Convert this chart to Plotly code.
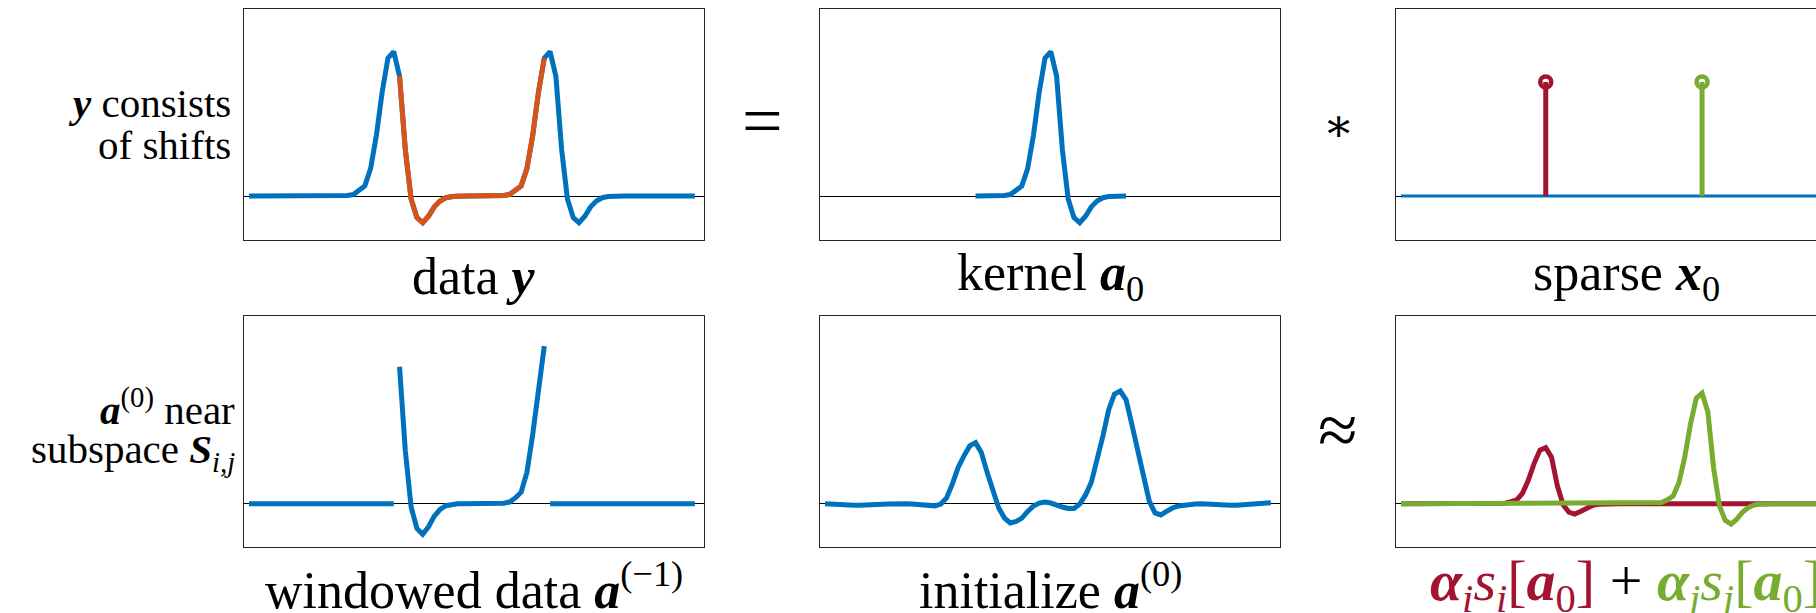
import numpy as np
import plotly.graph_objects as go

W, H = 1816, 613

# ---------------- data ----------------
n_samples = 78
kernel_a0 = [0.0, 0.0, 0.0, 0.0, 0.0, 0.003, 0.01, 0.035, 0.07, 0.19, 0.42, 0.72, 0.955, 1.0,
             0.83, 0.32, -0.02, -0.15, -0.185, -0.14, -0.075, -0.035, -0.012, -0.004, 0.0, 0.0, 0.0]
kernel_offset_in_panel = 26          # where the kernel is drawn in the "kernel a0" panel
shift_starts = [12, 39]              # kernel start positions inside y
spike_positions = [25, 52]           # sparse x0 support
spike_heights = [0.79, 0.79]
orange_window = [26, 51]             # highlighted window (inclusive)
alpha_scales = [0.34, 0.67]          # alpha_i, alpha_j
init_a0 = [0.0, -0.003, -0.006, -0.008, -0.009, -0.01,
           -0.01, -0.01, -0.008, -0.006, -0.004, -0.002, 0.0,
           0.0, 0.0, -0.002, -0.005, -0.008, -0.01, -0.013,
           -0.002, 0.035, 0.12, 0.22, 0.29, 0.35, 0.37, 0.31, 0.19, 0.07,
           -0.026, -0.087, -0.117, -0.108, -0.087, -0.047, -0.014, 0.004, 0.01, 0.004,
           -0.011, -0.02, -0.029, -0.029, -0.002, 0.053, 0.13, 0.265, 0.41, 0.57,
           0.665, 0.683, 0.63, 0.48, 0.33, 0.15, 0.016, -0.056, -0.068, -0.047,
           -0.026, -0.014, -0.008, -0.005, -0.002,
           0.0, -0.003, -0.006, -0.008, -0.009, -0.01,
           -0.009, -0.007, -0.005, -0.003, 0.0, 0.003, 0.006]

BLUE = "#0072BD"
ORANGE = "#D95319"
RED = "#A2142F"
GREEN = "#77AC30"
FRAME = "#262626"

idx = np.arange(n_samples)
kern = np.array(kernel_a0)
K = len(kern)


def place(start, values, scale=1.0):
    out = np.zeros(n_samples)
    out[start:start + len(values)] += scale * np.asarray(values)
    return out


y_data = place(shift_starts[0], kern) + place(shift_starts[1], kern)
kernel_panel = np.full(n_samples, np.nan)
kernel_panel[kernel_offset_in_panel:kernel_offset_in_panel + K] = kern

# ---------------- layout geometry ----------------
px_per_sample = 5.79
first_sample_px = 5.0
panel_w = 460
r0 = -first_sample_px / px_per_sample
r_full = [r0, r0 + panel_w / px_per_sample]
r_clip = [r0, r0 + (W - 1396) / px_per_sample]

top_row = (9, 240, 196, 144.4)
bot_row = (316, 547, 503.7, 165.0)


def yr(row):
    t, b, z, s = row
    return [-(b - z) / s, (z - t) / s]


panels = [
    (244, 704, top_row, r_full, True),
    (820, 1280, top_row, r_full, True),
    (1396, W, top_row, r_clip, False),
    (244, 704, bot_row, r_full, True),
    (820, 1280, bot_row, r_full, True),
    (1396, W, bot_row, r_clip, False),
]

fig = go.Figure()
layout = dict(width=W, height=H, margin=dict(l=0, r=0, t=0, b=0),
              paper_bgcolor="white", plot_bgcolor="white", showlegend=False)

for i, (x0, x1, row, xr, mirror_y) in enumerate(panels, start=1):
    t, b, z, s = row
    sfx = "" if i == 1 else str(i)
    layout["xaxis" + sfx] = dict(domain=[x0 / W, x1 / W], range=xr, anchor="y" + sfx,
                                 showline=True, mirror=True, linecolor=FRAME, linewidth=1,
                                 showgrid=False, zeroline=False, showticklabels=False,
                                 ticks="", fixedrange=True)
    layout["yaxis" + sfx] = dict(domain=[1 - b / H, 1 - t / H], range=yr(row), anchor="x" + sfx,
                                 showline=True, mirror=mirror_y, linecolor=FRAME, linewidth=1,
                                 showgrid=False, zeroline=True, zerolinecolor="black",
                                 zerolinewidth=1, showticklabels=False, ticks="",
                                 fixedrange=True)

LW = 5


def line(xs, ys, color, width, ax):
    fig.add_trace(go.Scatter(x=xs, y=ys, mode="lines", line=dict(color=color, width=width),
                             xaxis="x" + ax, yaxis="y" + ax, hoverinfo="skip"))


# panel 1: data y with orange window
line(idx, y_data, BLUE, LW, "")
w0, w1 = orange_window
line(idx[w0:w1 + 1], y_data[w0:w1 + 1], ORANGE, LW, "")

# panel 2: kernel
line(idx, kernel_panel, BLUE, LW, "2")

# panel 3: sparse spikes
line(idx, np.zeros(n_samples), BLUE, 3.2, "3")
for pos, h, col in zip(spike_positions, spike_heights, [RED, GREEN]):
    line([pos, pos], [0, h], col, LW, "3")
    fig.add_trace(go.Scatter(x=[pos], y=[h], mode="markers",
                             marker=dict(symbol="circle-open", size=11, color=col,
                                         line=dict(width=4.5, color=col)),
                             xaxis="x3", yaxis="y3", hoverinfo="skip"))

# panel 4: windowed data
line(idx[:w0], np.zeros(w0), BLUE, LW, "4")
line(idx[w0:w1 + 1], y_data[w0:w1 + 1], BLUE, LW, "4")
line(idx[w1 + 1:], np.zeros(n_samples - w1 - 1), BLUE, LW, "4")

# panel 5: initialization
line(idx, init_a0, BLUE, LW, "5")

# panel 6: scaled shifted kernels
line(idx, place(shift_starts[0], kern, alpha_scales[0]), RED, LW, "6")
line(idx, place(shift_starts[1], kern, alpha_scales[1]), GREEN, LW, "6")

fig.update_layout(**layout)

# ---------------- text ----------------
SERIF = "Liberation Serif, DejaVu Serif, serif"


def ann(text, px, py, xanchor="center", size=50, color="black"):
    fig.add_annotation(text=text, x=px / W, y=1 - py / H, xref="paper", yref="paper",
                       xanchor=xanchor, yanchor="middle", showarrow=False,
                       font=dict(family=SERIF, size=size, color=color))


ann("<b><i>y</i></b> consists", 233, 103, "right", 41)
ann("of shifts", 233, 145, "right", 41)
ann("<b><i>a</i></b><sup>(0)</sup> near", 237, 407, "right", 41)
ann("subspace <b><i>S</i></b><sub><i>i,j</i></sub>", 237, 452, "right", 41)

BS = 52
ann("data <b><i>y</i></b>", 474, 276, size=BS)
ann("kernel <b><i>a</i></b><sub>0</sub>", 1050, 276, size=BS)
ann("sparse <b><i>x</i></b><sub>0</sub>", 1626, 276, size=BS)
ann("windowed data <b><i>a</i></b><sup>(\u22121)</sup>", 474, 586, size=BS)
ann("initialize <b><i>a</i></b><sup>(0)</sup>", 1050, 586, size=BS)
ann(f"<span style='color:{RED}'><b><i>\u03b1</i></b><sub><i>i</i></sub><i>s</i><sub><i>i</i></sub>"
    f"[<b><i>a</i></b><sub>0</sub>]</span> + "
    f"<span style='color:{GREEN}'><b><i>\u03b1</i></b><sub><i>j</i></sub><i>s</i><sub><i>j</i></sub>"
    f"[<b><i>a</i></b><sub>0</sub>]</span>", 1626, 584, size=58)

ann("=", 762, 121, "center", 72)
ann("\u2217", 1338, 125, "center", 46)
ann("\u2248", 1338, 430, "center", 72)

fig.write_html("out.html", config={"displayModeBar": False},
               post_script="document.body.style.margin='0px';")
